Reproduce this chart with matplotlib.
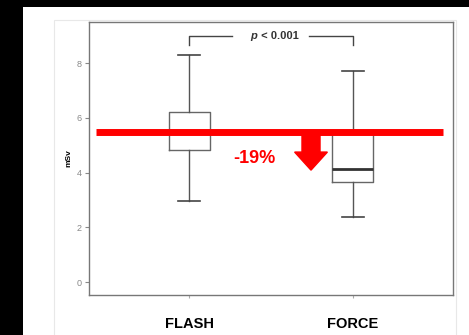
import matplotlib.pyplot as plt
from matplotlib.patches import Rectangle

# values (mSv)
groups = ['FLASH', 'FORCE']
q1 = [4.82, 3.65]
med = [5.45, 4.12]
q3 = [6.2, 5.55]
whislo = [2.95, 2.37]
whishi = [8.28, 7.7]
ref_line = 5.47
change_label = '-19%'
p_label = 'p < 0.001'

plt.rcParams['font.family'] = ['Liberation Sans', 'DejaVu Sans']

fig = plt.figure(figsize=(4.69, 3.35), dpi=100)
fig.patch.set_facecolor('black')
# white slide panel + faint frame of the pasted figure
fig.patches.append(Rectangle((23 / 469, 0), 1, 328 / 335, transform=fig.transFigure,
                             facecolor='white', edgecolor='none', zorder=-2))
fig.patches.append(Rectangle((54 / 469, -0.01), 402 / 469, 318 / 335, transform=fig.transFigure,
                             facecolor='none', edgecolor='#e8e8e8', lw=0.8, zorder=-1))

ax = fig.add_axes([89 / 469, 40 / 335, 364 / 469, 273 / 335])
ax.set_facecolor('white')

stats = []
for i, g in enumerate(groups):
    stats.append(dict(label=g, q1=q1[i], med=med[i], q3=q3[i],
                      whislo=whislo[i], whishi=whishi[i], fliers=[]))
ax.bxp(stats, positions=[1, 2], widths=0.25, showfliers=False,
       boxprops=dict(color='#666666', lw=1),
       whiskerprops=dict(color='#555555', lw=1),
       capprops=dict(color='#444444', lw=1.2),
       medianprops=dict(color='#333333', lw=2), capwidths=0.13)

ax.set_xlim(0.39, 2.61)
ax.set_ylim(-0.47, 9.5)
ax.set_yticks([0, 2, 4, 6, 8])
ax.set_xticks([1, 2])
ax.set_xticklabels(groups, fontsize=10.5, fontweight='bold', color='black')
ax.tick_params(axis='x', length=2, pad=14, color='#aaaaaa')
ax.tick_params(axis='y', length=3, labelsize=6.5, labelcolor='#888888', color='#888888', pad=2)
for s in ax.spines.values():
    s.set_color('#777777')
    s.set_linewidth(1)
ax.set_ylabel('mSv', fontsize=6, fontweight='bold', labelpad=3)

# significance bracket
by, bt = 9.0, 8.67
ax.plot([1, 1, 1.26], [bt, by, by], color='#444444', lw=1)
ax.plot([1.73, 2, 2], [by, by, bt], color='#444444', lw=1)
ax.text(1.375, by, 'p', fontsize=8, fontweight='bold', fontstyle='italic',
        ha='left', va='center', color='#333333')
ax.text(1.42, by, p_label[1:], fontsize=8, fontweight='bold',
        ha='left', va='center', color='#333333')

# red reference line and arrow
ax.plot([0.43, 2.55], [ref_line, ref_line], color='#ff0000', lw=5, solid_capstyle='butt', zorder=5)
ax.arrow(1.744, ref_line, 0, -(ref_line - 4.09) + 0.66, width=0.11, head_width=0.2,
         head_length=0.66, color='#ff0000', length_includes_head=False, zorder=6)
ax.text(1.40, 4.53, change_label, color='#ff0000', fontsize=13, fontweight='bold',
        ha='center', va='center', zorder=6)

fig.savefig('out.png', dpi=100, facecolor=fig.get_facecolor())
